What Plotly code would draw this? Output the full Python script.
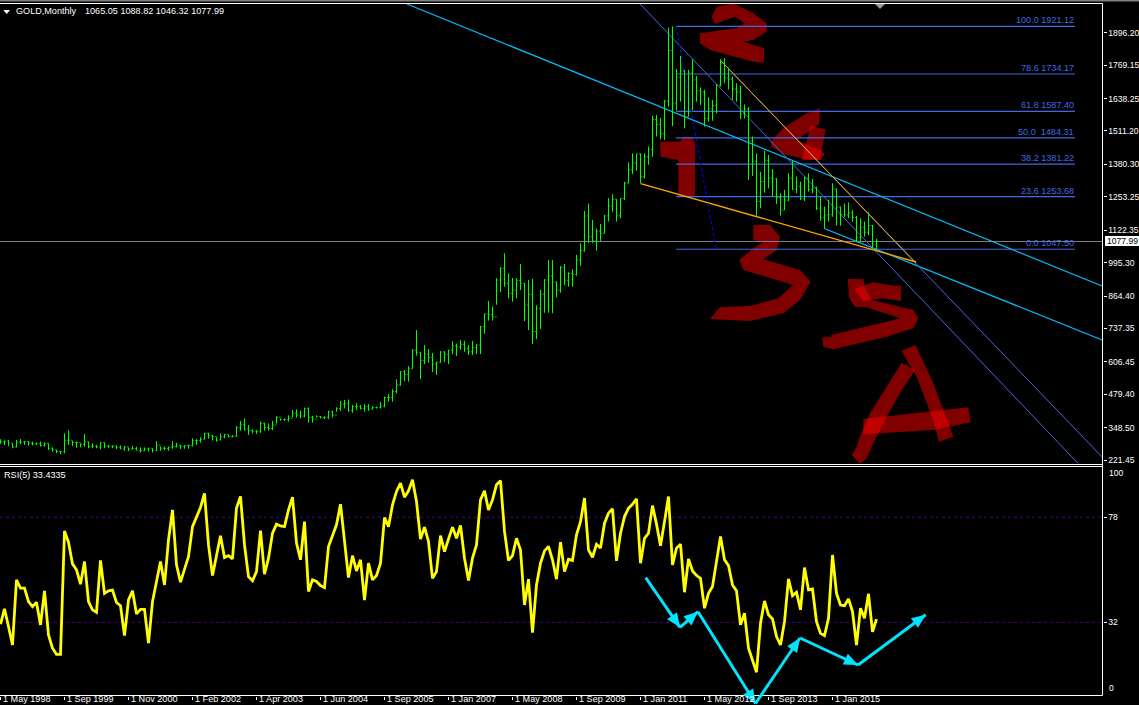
import plotly.graph_objects as go

W, H = 1139, 705

# ---------- data ----------
bar_high = [303,298,300,287,300,304,296,296,294,290,294,290,287,271,261,257,326,339,296,294,
            287,324,294,287,281,291,290,281,279,278,279,277,271,277,274,271,271,270,268,296,
            274,275,274,296,290,281,279,282,307,303,311,329,329,320,311,326,324,320,319,355,
            375,385,359,342,339,372,368,365,375,394,384,384,397,418,420,415,427,428,394,397,
            394,392,415,415,428,453,457,459,437,444,437,441,441,433,431,449,470,480,499,538,
            569,574,590,656,731,644,672,657,641,607,648,648,653,687,678,692,689,672,688,676,
            747,796,845,823,934,977,1032,953,935,934,990,914,927,931,828,888,930,1005,1005,921,
            982,990,957,969,1025,1071,1197,1227,1162,1129,1147,1182,1247,1263,1244,1247,1312,1388,1423,1421,
            1423,1423,1450,1570,1574,1561,1632,1916,1921.12,1754,1805,1750,1750,1792,1726,1682,1672,1643,1632,1694,
            1792,1796,1759,1724,1698,1687,1615,1604,1489,1423,1351,1434,1417,1362,1326,1267,1280,1345,1393,1332,
            1312,1332,1345,1323,1293,1254,1215,1241,1306,1286,1215,1227,1231,1201,1178,1169,1156,1192,1143,1088.82]
bar_low = [285,281,277,268,271,285,281,278,279,281,274,274,261,254,248,245,248,281,277,270,
           271,274,268,268,268,264,268,268,268,265,265,258,257,264,261,251,257,255,251,257,
           258,261,258,266,271,265,266,266,274,281,290,303,305,298,294,300,307,311,311,313,
           337,337,320,326,324,329,337,337,339,365,376,375,372,389,388,385,389,368,369,389,
           385,382,382,389,411,415,424,411,407,418,420,411,415,420,424,424,428,450,450,483,
           513,531,529,580,631,539,598,603,567,555,603,606,598,637,629,653,646,633,633,637,
           637,716,768,768,830,880,901,855,842,855,888,766,731,676,696,735,799,799,797,859,
           877,907,901,901,944,983,1038,1073,1073,1042,1080,1110,1156,1195,1156,1169,1240,1306,1342,1355,
           1306,1325,1378,1410,1489,1478,1476,1606,1530,1593,1626,1521,1567,1593,1626,1613,1528,1547,1551,1580,
           1685,1698,1674,1632,1626,1557,1560,1319,1335,1179,1208,1269,1286,1254,1225,1179,1201,1237,1280,1267,
           1241,1237,1273,1267,1201,1160,1127,1156,1175,1140,1140,1173,1169,1156,1075,1077,1097,1103,1051,1046.32]
bar_close = [294,296,288,273,293,292,294,288,285,287,279,286,268,262,255,254,299,299,291,290,
             283,293,276,276,273,290,277,276,277,272,265,273,265,267,258,258,265,268,260,280,
             268,267,272,275,278,276,278,279,298,298,303,326,317,314,300,313,322,314,315,348,
             360,343,337,335,333,365,350,345,359,389,381,379,385,405,398,394,424,389,382,392,
             389,389,411,398,424,440,444,415,431,431,424,431,421,427,427,433,467,467,490,516,
             568,557,581,653,644,612,637,624,598,605,645,636,652,669,665,675,659,646,663,672,
             744,794,791,783,927,973,914,875,887,925,914,829,871,725,816,871,927,943,919,887,
             977,926,953,949,1005,1042,1178,1097,1080,1119,1110,1178,1217,1243,1179,1247,1307,1359,1386,1421,
             1332,1410,1439,1556,1536,1500,1628,1826,1620,1722,1746,1566,1738,1711,1669,1664,1560,1598,1611,1690,
             1776,1719,1714,1675,1664,1578,1597,1472,1393,1235,1313,1396,1327,1323,1250,1201,1240,1326,1283,1295,
             1245,1327,1282,1287,1208,1171,1182,1183,1283,1212,1183,1182,1190,1172,1095,1134,1114,1141,1065,1077.99]
bar_open = [300,294,296,288,273,293,292,294,288,285,287,279,286,268,262,255,254,299,299,291,
            290,283,293,276,276,273,290,277,276,277,272,265,273,265,267,258,258,265,268,260,
            280,268,267,272,275,278,276,278,279,298,298,303,326,317,314,300,313,322,314,315,
            348,360,343,337,335,333,365,350,345,359,389,381,379,385,405,398,394,424,389,382,
            392,389,389,411,398,424,440,444,415,431,431,424,431,421,427,427,433,467,467,490,
            516,568,557,581,653,644,612,637,624,598,605,645,636,652,669,665,675,659,646,663,
            672,744,794,791,783,927,973,914,875,887,925,914,829,871,725,816,871,927,943,919,
            887,977,926,953,949,1005,1042,1178,1097,1080,1119,1110,1178,1217,1243,1179,1247,1307,1359,1386,
            1421,1332,1410,1439,1556,1536,1500,1628,1826,1620,1722,1746,1566,1738,1711,1669,1664,1560,1598,1611,
            1690,1776,1719,1714,1675,1664,1578,1597,1472,1393,1235,1313,1396,1327,1323,1250,1201,1240,1326,1283,
            1295,1245,1327,1282,1287,1208,1171,1182,1183,1283,1212,1183,1182,1190,1172,1095,1134,1114,1141,1065.05]
rsi_values = [31.2,37.9,30.2,22.1,50.6,47.0,47.0,41.1,38.9,40.8,30.9,45.8,26.5,20.7,18.0,18.0,72.0,67.1,57.6,55.0,
              48.7,58.6,41.1,37.5,36.4,59.1,44.7,45.8,46.1,40.7,39.3,26.2,41.8,45.8,35.7,37.7,37.7,22.9,41.1,49.9,
              58.6,48.4,68.1,81.2,57.2,49.6,55.0,60.8,73.9,78.3,82.3,88.5,65.9,52.5,61.5,69.9,60.4,61.2,59.8,82.0,
              87.1,65.9,52.0,50.2,54.2,72.2,53.1,60.1,71.0,75.0,74.2,73.9,81.2,86.8,66.7,59.4,76.1,45.5,50.6,49.9,
              48.1,47.2,65.2,70.3,74.7,83.7,66.7,51.6,61.2,54.5,59.4,41.8,57.9,50.6,52.5,57.9,77.9,73.9,83.4,89.3,
              92.9,86.8,89.6,94.4,84.9,68.5,73.7,67.4,51.3,54.2,70.0,63.0,68.5,73.7,68.8,74.4,60.1,50.3,60.1,65.9,
              85.6,89.6,81.2,85.6,92.2,94.0,71.8,59.1,61.2,68.8,63.7,39.6,50.9,27.5,48.4,57.9,63.3,65.2,59.4,50.9,
              67.1,54.2,59.6,59.1,70.3,76.1,86.4,63.7,60.5,66.2,64.5,75.4,79.8,81.7,58.9,71.0,78.3,82.0,83.7,86.1,
              57.9,68.8,71.0,83.1,75.0,65.5,76.1,87.1,57.2,64.5,66.2,45.2,59.8,54.5,52.5,51.3,38.2,44.7,47.7,59.4,
              69.6,59.4,56.9,48.4,45.8,30.9,36.0,20.7,15.6,10.2,31.6,41.4,35.3,33.5,25.8,22.1,32.3,51.0,43.7,45.2,
              37.5,56.0,46.2,46.6,32.3,27.2,26.2,33.8,61.5,44.7,39.6,39.3,42.3,36.7,22.1,38.2,33.8,44.5,27.9,33.4335]
bar_index = list(range(len(bar_close)))

date_ticks = [0,16,32,48,64,80,96,112,128,144,160,176,192,208]
date_labels = ["1 May 1998","1 Sep 1999","1 Nov 2000","1 Feb 2002","1 Apr 2003","1 Jun 2004","1 Sep 2005",
               "1 Jan 2007","1 May 2008","1 Sep 2009","1 Jan 2011","1 May 2012","1 Sep 2013","1 Jan 2015"]
price_ticks = [1896.20,1769.15,1638.25,1511.20,1380.30,1253.25,1122.35,995.30,864.40,737.35,606.45,479.40,348.50,221.45]
rsi_levels = [78, 32]
fib_ratios = ["100.0","78.6","61.8","50.0 ","38.2","23.6","0.0"]
fib_prices = [1921.12,1734.17,1587.40,1484.31,1381.22,1253.68,1047.50]
last_price = 1077.99

# ---------- colours / geometry ----------
GREEN, YELLOW = "#00FF00", "#FFFF00"
ROYAL, SKY, ORANGE = "#4169E1", "#00BFFF", "#FFA500"
CYAN, INDIGO, GRAY = "#00E5FF", "#4B0082", "#808080"
FONT = "Liberation Sans"
FS = 9.1
FS_AXIS = 8.6
PANE_R = 1102.5

def px(x): return x / W
def py(y): return 1 - y / H

def poly(points, color="rgba(255,0,0,0.5)"):
    d = "M " + " L ".join(f"{px(a):.5f},{py(b):.5f}" for a, b in points) + " Z"
    return dict(type="path", xref="paper", yref="paper", path=d, fillcolor=color,
                line=dict(width=0), layer="below")

def hline(y, x0=0, x1=PANE_R, color="white", width=1):
    return dict(type="line", xref="paper", yref="paper", x0=px(x0), x1=px(x1), y0=py(y), y1=py(y),
                line=dict(color=color, width=width), layer="above")

def tline(x0, y0, x1, y1, color, width=1, dash="solid"):
    return dict(type="line", xref="x", yref="y", x0=x0, y0=y0, x1=x1, y1=y1,
                line=dict(color=color, width=width, dash=dash), layer="below")

def arrow(a, b, length=14, half=6):
    dx, dy = b[0] - a[0], b[1] - a[1]
    n = (dx * dx + dy * dy) ** 0.5
    ux, uy = dx / n, dy / n
    base = (b[0] - ux * length, b[1] - uy * length)
    left = (base[0] - uy * half, base[1] + ux * half)
    right = (base[0] + uy * half, base[1] - ux * half)
    seg = dict(type="line", xref="paper", yref="paper", x0=px(a[0]), y0=py(a[1]), x1=px(b[0]), y1=py(b[1]),
               line=dict(color=CYAN, width=3), layer="above")
    return [seg, {**poly([b, left, right], CYAN), "layer": "above"}]

# hand-drawn red wave labels
scribbles = [
    [(711.7,16.7),(716.7,6.7),(733.3,3.5),(753.3,13.3),(766.7,23.3),(766.7,31.7),(753.3,40),(743.3,41.7),(764,48.3),(764,62.7),(753.3,61.7),(710,50),(700,43.3),(700,33.3),(716.7,30.7),(736.7,28.3),(745,23.3),(735,16.7),(715,24)],
    [(660,141.7),(680,141.7),(683.3,136.7),(691.7,136.7),(695,143.3),(695,196.7),(678.3,196.7),(678.3,160),(660.7,156.7)],
    [(820,108.3),(819.3,124),(796.7,140),(820,150),(825,154),(820,160),(806.7,159.3),(783.3,154),(771.7,146.7),(770.7,141.7),(783.3,128.3),(806.7,113.3)],
    [(810.7,126),(825.7,129.3),(820,160),(801.7,160)],
    [(753.3,225),(770,225),(780,236.7),(776.7,250),(763.3,259.3),(800,270),(810.7,281.7),(800,300),(783.3,313.3),(750,321),(710,319),(720,307.3),(750,306),(778.3,298.3),(793.3,285),(743.3,270),(739.3,260),(753.3,248.3),(763.3,241.7),(753.3,240)],
    [(847.7,279),(863.3,279),(865,288.3),(871.7,300),(913.3,310),(918.3,318.3),(913.3,328.3),(886.7,336.7),(833.3,349.3),(823.3,346.7),(822.3,337.3),(831.7,337.3),(831,335),(886.7,321.7),(900,318.3),(866.7,307.3),(855,306.7),(849.3,298.3)],
    [(854.3,289),(873.3,282.3),(893.3,285.7),(901,285.7),(901,301),(881.7,298.3),(863.3,301)],
    [(901.7,362.7),(915,370),(900,393.3),(886.7,416.7),(873.3,443.3),(866.7,458.3),(860,464),(851.7,455),(856.7,446.7),(860,436.7),(870,413.3),(886.7,386.7)],
    [(901.7,351),(915.7,345),(933.3,383.3),(953.3,436.7),(939,441.7),(933.3,420),(916.7,376.7)],
    [(863.3,419),(968.3,407.3),(970.7,422.3),(933.3,430),(863.3,434.3)],
]
shapes = [poly(s) for s in scribbles]

# fibonacci levels, last price and trend lines (bar index, price)
FIB_X0, FIB_X1 = 168.9, 268.6
shapes += [tline(FIB_X0, p, FIB_X1, p, ROYAL, 1.2) for p in fib_prices]
shapes.append(tline(-0.125, last_price, 275.5, last_price, GRAY))
shapes += [
    tline(101.6, 2008.5, 275.4, 903.6, SKY, 1.2),
    tline(206.1, 1128.1, 275.4, 692.0, SKY, 1.2),
    tline(159.9, 2008.5, 269.4, 208.2, ROYAL),
    tline(179.9, 1789.1, 275.4, 233.7, ROYAL),
    tline(179.9, 1789.1, 228.9, 993.7, ORANGE),
    tline(160.05, 1304.4, 228.9, 997.6, ORANGE, 1.3),
    tline(168.9, 1921.12, 178.9, 1047.5, "#0000FF", 1.2, "3px,3px"),
]
# RSI levels
for lv in rsi_levels:
    shapes.append(dict(type="line", xref="x", yref="y2", x0=-0.125, x1=275.5, y0=lv, y1=lv,
                       line=dict(color=INDIGO, width=1, dash="3px,3px"), layer="below"))
# frame
shapes += [
    dict(type="rect", xref="paper", yref="paper", x0=0, x1=1, y0=py(1.5), y1=1,
         fillcolor=GRAY, line=dict(width=0), layer="above"),
    hline(3.5), hline(464.5), hline(466.5), hline(695.5),
    dict(type="line", xref="paper", yref="paper", x0=px(PANE_R), x1=px(PANE_R), y0=py(695.5), y1=py(3.5),
         line=dict(color="white", width=1), layer="above"),
    poly([(3.3,10),(10,10),(6.7,14)], "white"),
    poly([(875,4),(885,4),(880,9)], "#8A9AA8"),
    dict(type="rect", xref="paper", yref="paper", x0=px(1105), x1=1, y0=py(246), y1=py(236),
         fillcolor="white", line=dict(width=0), layer="above"),
]
# hand-drawn cyan arrows on the RSI pane
arrow_path = [(645.7,577.7),(680,627.3),(698,611.7),(755.5,703.5),(800,638),(858,665),(925.7,614.7)]
for a, b in zip(arrow_path[:-1], arrow_path[1:]):
    shapes += arrow(a, b)

def text(x, y, s, color="white", anchor="left", size=FS, **kw):
    return dict(xref="paper", yref="paper", x=px(x), y=py(y), text=s, showarrow=False, xanchor=anchor,
                yanchor="middle", font=dict(color=color, size=size, family=FONT), borderpad=0, **kw)

annotations = [
    text(15, 11.5, "GOLD,Monthly"),
    text(84, 11.5, "1065.05 1088.82 1046.32 1077.99"),
    text(3, 475, "RSI(5) 33.4335"),
    text(1106, 241, "1077.99", color="black", size=FS_AXIS),
    text(1108, 473, "100", size=FS_AXIS),
    text(1108, 688, "0", size=FS_AXIS),
]
for r, p in zip(fib_ratios, fib_prices):
    annotations.append(dict(xref="x", yref="y", x=FIB_X1, y=p, text=f"{r} {p:.2f}", showarrow=False,
                            xanchor="right", yanchor="bottom", borderpad=0,
                            font=dict(color=ROYAL, size=FS, family=FONT)))
for t, s in zip(date_ticks, date_labels):
    annotations.append(dict(xref="x", yref="paper", x=t, y=0, text=s, showarrow=False, xanchor="left",
                            yanchor="bottom", xshift=1, borderpad=0,
                            font=dict(color="white", size=FS, family=FONT)))

fig = go.Figure()
fig.add_trace(go.Ohlc(x=bar_index, open=bar_open, high=bar_high, low=bar_low, close=bar_close,
                      increasing=dict(line=dict(color=GREEN, width=1)),
                      decreasing=dict(line=dict(color=GREEN, width=1)),
                      tickwidth=0.3, hoverinfo="skip", xaxis="x", yaxis="y"))
fig.add_trace(go.Scatter(x=bar_index, y=rsi_values, mode="lines",
                         line=dict(color=YELLOW, width=2.8), hoverinfo="skip", xaxis="x", yaxis="y2"))

fig.update_layout(
    width=W, height=H, autosize=False,
    margin=dict(l=0, r=0, t=0, b=0), showlegend=False,
    paper_bgcolor="black", plot_bgcolor="black",
    font=dict(family=FONT, color="white", size=FS),
    xaxis=dict(domain=[0, px(PANE_R)], range=[-0.125, 275.5], anchor="y2", rangeslider=dict(visible=False),
               tickmode="array", tickvals=date_ticks, ticks="outside", ticklen=3,
               tickcolor="white", showticklabels=False, showgrid=False, zeroline=False),
    yaxis=dict(domain=[py(464), py(3.5)], range=[206.2, 2010.4], side="right", anchor="x",
               tickmode="array", tickvals=price_ticks, ticktext=[f"{v:.2f}" for v in price_ticks],
               ticks="outside", ticklen=3, tickcolor="white", showgrid=False, zeroline=False,
               tickfont=dict(color="white", size=FS_AXIS, family=FONT)),
    yaxis2=dict(domain=[py(695.5), py(467)], range=[0, 100], side="right", anchor="x",
                tickmode="array", tickvals=rsi_levels, ticktext=[str(v) for v in rsi_levels],
                ticks="outside", ticklen=3, tickcolor="white", showgrid=False, zeroline=False,
                tickfont=dict(color="white", size=FS_AXIS, family=FONT)),
    shapes=shapes, annotations=annotations,
)
fig.write_html("out.html", config=dict(displayModeBar=False),
               post_script=("var s=document.createElement('style');"
                            "s.textContent='html,body{margin:0;padding:0;width:1139px;height:705px;overflow:hidden;background:#000}"
                            "body>div{display:block;height:705px;overflow:hidden}';"
                            "document.head.appendChild(s);"))
